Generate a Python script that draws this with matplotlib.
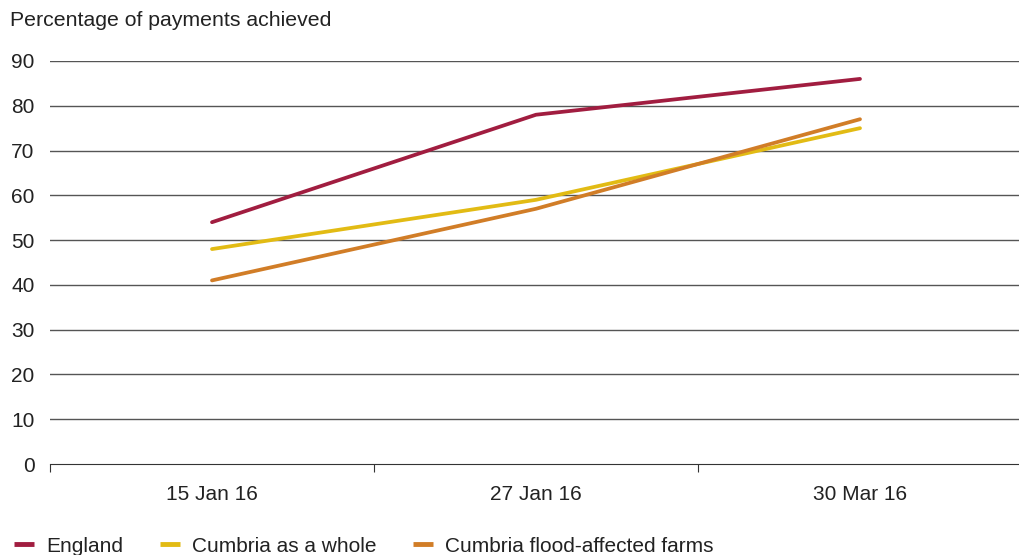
import matplotlib
matplotlib.use("Agg")
import matplotlib.pyplot as plt
from matplotlib.lines import Line2D

plt.rcParams['font.family'] = ['Liberation Sans', 'DejaVu Sans']

categories = ["15 Jan 16", "27 Jan 16", "30 Mar 16"]
england = [54, 78, 86]
cumbria_whole = [48, 59, 75]
cumbria_flood = [41, 57, 77]
series_names = ["England", "Cumbria as a whole", "Cumbria flood-affected farms"]
colors = ["#a11d40", "#e2bb14", "#d17d27"]
yticks = list(range(0, 100, 10))

W, H = 1019, 555
fig = plt.figure(figsize=(W/100, H/100), dpi=100)
ax = fig.add_axes([50/W, 91/H, 972/W, 403/H])

x = list(range(len(categories)))
for vals, c, n in zip([england, cumbria_whole, cumbria_flood], colors, series_names):
    ax.plot(x, vals, color=c, lw=2.7, solid_capstyle='round', label=n, zorder=3)

ax.set_xlim(-0.5, len(categories) - 0.5)
ax.set_ylim(0, 90)
ax.set_yticks(yticks)
for t in yticks[1:]:
    ax.axhline(t, color="#555555", lw=1.0, zorder=1)

ax.set_xticks([i - 0.5 for i in range(len(categories) + 1)])
ax.set_xticklabels([])
ax.set_xticks(x, minor=True)
ax.set_xticklabels(categories, minor=True)
ax.tick_params(axis='x', which='major', length=6, color="#333333", width=0.8)
ax.tick_params(axis='x', which='minor', length=0, pad=15, labelsize=15, labelcolor="#222222")
ax.tick_params(axis='y', length=0, pad=11, labelsize=15, labelcolor="#222222")
for lab in ax.get_yticklabels():
    lab.set_horizontalalignment('right')

for s in ['top', 'right', 'left']:
    ax.spines[s].set_visible(False)
ax.spines['bottom'].set_color("#333333")
ax.spines['bottom'].set_linewidth(0.8)

fig.text(10/W, 1 - 20/H, "Percentage of payments achieved", fontsize=15.3, color="#222222", va='center', ha='left')

handles = [Line2D([0], [0], color=c, lw=3.5, solid_capstyle='butt') for c in colors]
fig.legend(handles, series_names, loc='lower left', bbox_to_anchor=(-4.5/W, -0.035), ncol=3,
           frameon=False, fontsize=15, handlelength=0.96, handletextpad=0.58, columnspacing=1.75,
           labelcolor="#222222")

fig.savefig("out.png", dpi=100)
